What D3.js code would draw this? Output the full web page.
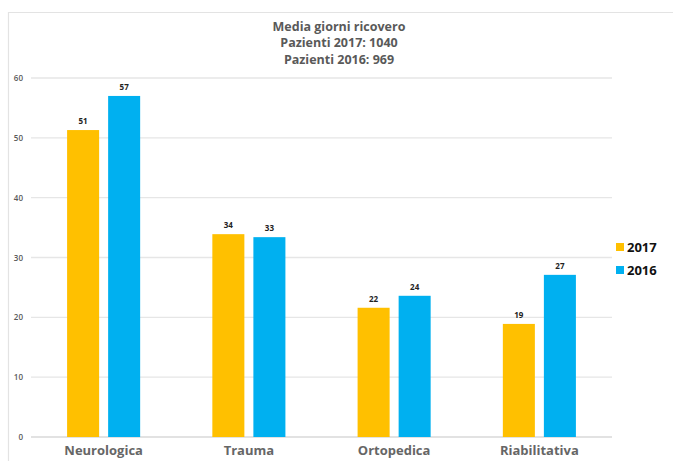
<!DOCTYPE html>
<html>
<head>
<meta charset="utf-8">
<script src="https://cdn.jsdelivr.net/npm/d3@7"></script>
<style>
  html, body { margin: 0; padding: 0; background: #fff; }
  svg { display: block; }
  text { font-family: "Open Sans", "DejaVu Sans", sans-serif; }
</style>
</head>
<body>
<svg id="chart" width="673" height="461"></svg>
<script>
const categories = ["Neurologica", "Trauma", "Ortopedica", "Riabilitativa"];
const seriesNames = ["2017", "2016"];
const values2017 = [51.3, 33.9, 21.6, 18.9];
const values2016 = [57.0, 33.4, 23.6, 27.1];
const valueLabels2017 = ["51", "34", "22", "19"];
const valueLabels2016 = ["57", "33", "24", "27"];
const yTicks = [0, 10, 20, 30, 40, 50, 60];
const titleLines = ["Media giorni ricovero", "Pazienti 2017: 1040", "Pazienti 2016: 969"];
const colors = ["#FFC000", "#00B0F0"];

const svg = d3.select("#chart");

// frame
svg.append("path")
  .attr("d", "M8.5,461 L8.5,12.5 L673,12.5")
  .attr("fill", "none").attr("stroke", "#e3e3e3").attr("stroke-width", 1.2);

const x0 = d3.scaleBand().domain(categories).range([31, 612]).paddingInner(0.497).paddingOuter(0.2485);
const x1 = d3.scaleBand().domain(seriesNames).range([0, x0.bandwidth()]).paddingInner(0.2195);
const y = d3.scaleLinear().domain([0, 60]).range([437, 78]);

// gridlines
svg.append("g").selectAll("line").data(yTicks).join("line")
  .attr("x1", 31).attr("x2", 612)
  .attr("y1", d => y(d)).attr("y2", d => y(d))
  .attr("stroke", d => d === 0 ? "#d9d9d9" : "#e6e6e6").attr("stroke-width", 1.3);

// y axis labels
const yAxis = d3.axisLeft(y).tickValues(yTicks).tickSize(0).tickPadding(0);
const gy = svg.append("g").attr("transform", "translate(23,0)").call(yAxis);
gy.select(".domain").remove();
gy.selectAll("text").attr("fill", "#595959").style("font-size", "8px").style("font-weight", "600")
  .style("font-family", '"Open Sans", sans-serif');

// x axis labels
const xAxis = d3.axisBottom(x0).tickSize(0).tickPadding(0);
const gx = svg.append("g").attr("transform", "translate(0,446)").call(xAxis);
gx.select(".domain").remove();
gx.selectAll("text").attr("fill", "#666").style("font-size", "13px").style("font-weight", "700")
  .style("font-family", '"Open Sans", sans-serif').attr("dy", "0.71em");

// bars
const rows = categories.map((c, i) => ({
  cat: c,
  items: [
    { s: "2017", v: values2017[i], lab: valueLabels2017[i], col: colors[0] },
    { s: "2016", v: values2016[i], lab: valueLabels2016[i], col: colors[1] }
  ]
}));

const groups = svg.append("g").selectAll("g").data(rows).join("g")
  .attr("transform", d => `translate(${x0(d.cat)},0)`);

groups.selectAll("rect").data(d => d.items).join("rect")
  .attr("x", d => x1(d.s)).attr("width", x1.bandwidth())
  .attr("y", d => y(d.v)).attr("height", d => y(0) - y(d.v))
  .attr("fill", d => d.col);

groups.selectAll("text.val").data(d => d.items).join("text")
  .attr("class", "val")
  .attr("x", d => x1(d.s) + x1.bandwidth() / 2)
  .attr("y", d => y(d.v) - 6)
  .attr("text-anchor", "middle")
  .attr("fill", "#222").style("font-size", "8px").style("font-weight", "700")
  .text(d => d.lab);

// title
svg.append("g").selectAll("text").data(titleLines).join("text")
  .attr("x", 339).attr("y", (d, i) => 31 + i * 16.3)
  .attr("text-anchor", "middle").attr("fill", "#595959")
  .style("font-size", "12.5px").style("font-weight", "700")
  .text(d => d);

// legend
const leg = svg.append("g").selectAll("g").data(seriesNames).join("g")
  .attr("transform", (d, i) => `translate(616,${243 + i * 23})`);
leg.append("rect").attr("width", 8).attr("height", 8).attr("fill", (d, i) => colors[i]);
leg.append("text").attr("x", 11).attr("y", 8.5).attr("fill", "#111")
  .style("font-size", "13px").style("font-weight", "700").text(d => d);
</script>
</body>
</html>
